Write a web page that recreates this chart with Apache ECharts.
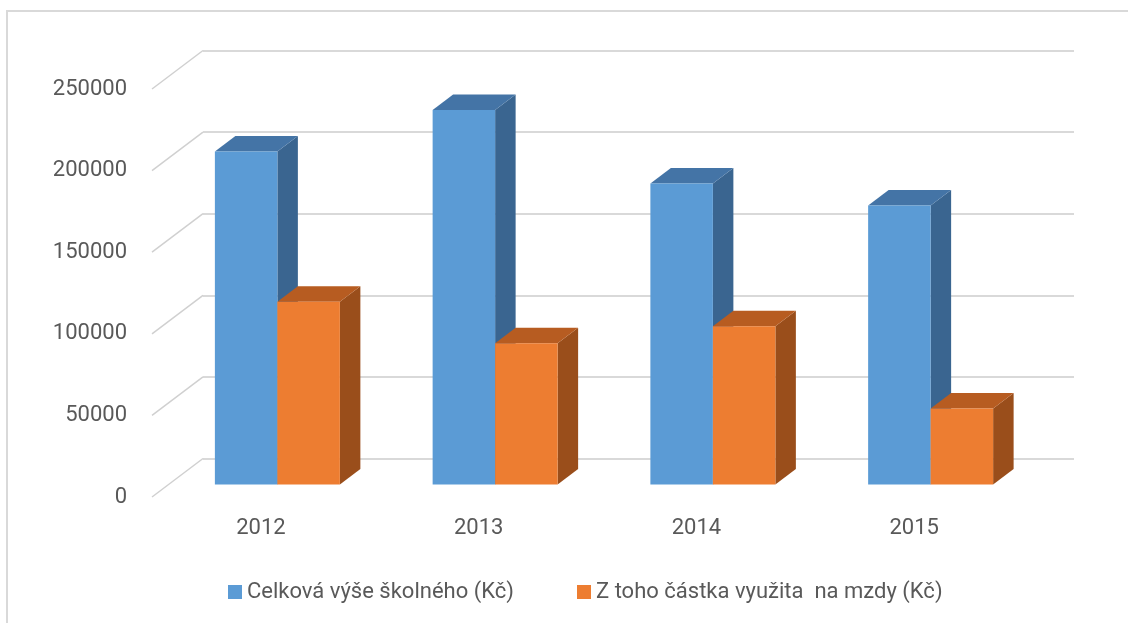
<!DOCTYPE html>
<html lang="cs">
<head>
<meta charset="UTF-8">
<title>Školné</title>
<script src="https://cdn.jsdelivr.net/npm/echarts@6/dist/echarts.min.js"></script>
<style>
  html, body { margin: 0; padding: 0; background: #fff; }
  #chart { width: 1128px; height: 623px; }
</style>
</head>
<body>
<div id="chart"></div>
<script>
// data
var years = ['2012', '2013', '2014', '2015'];
var celkem = [204000, 229500, 184500, 171000];
var mzdy = [112000, 86500, 97000, 46500];
var yTicks = [0, 50000, 100000, 150000, 200000, 250000];
var seriesNames = ['Celková výše školného (Kč)', 'Z toho částka využita  na mzdy (Kč)'];

// 3D look (pixels)
var DX = 51, DY = -38.5;            // floor depth, front wall -> back wall
var BAR_DX = 16.5, BAR_DY = -12.5;  // where the bars stand inside the depth
var BAR_SX = 20.5, BAR_SY = -15.5;  // bar thickness
var BAR_W = 0.287;                  // share of the category width per bar
var faces = [
    { front: '#5b9bd5', top: '#4474a6', side: '#3a6590' },
    { front: '#ed7d31', top: '#b75c21', side: '#9a4e1b' }
];
var txt = '#595959';
var font = 'Roboto, "Noto Sans", sans-serif';

function renderBar(s) {
    return function (params, api) {
        var i = api.value(0);
        var base = api.coord([i, 0]);
        var head = api.coord([i, api.value(1)]);
        var w = api.size([1, 0])[0] * BAR_W;
        var xl = base[0] + BAR_DX - (s === 0 ? w : 0);
        var xr = xl + w;
        var yb = base[1] + BAR_DY;
        var yt = head[1] + BAR_DY;
        var c = faces[s];
        return {
            type: 'group',
            children: [
                { type: 'polygon', shape: { points: [[xr, yt], [xr + BAR_SX, yt + BAR_SY], [xr + BAR_SX, yb + BAR_SY], [xr, yb]] }, style: { fill: c.side } },
                { type: 'polygon', shape: { points: [[xl, yt], [xr, yt], [xr + BAR_SX, yt + BAR_SY], [xl + BAR_SX, yt + BAR_SY]] }, style: { fill: c.top } },
                { type: 'rect', shape: { x: xl, y: yt, width: w, height: yb - yt }, style: { fill: c.front } }
            ]
        };
    };
}

var chart = echarts.init(document.getElementById('chart'));
chart.setOption({
    animation: false,
    textStyle: { fontFamily: font },
    graphic: [{
        type: 'rect', silent: true,
        shape: { x: 7, y: 11, width: 1160, height: 660 },
        style: { fill: 'none', stroke: '#d9d9d9', lineWidth: 2 }
    }],
    grid: [
        // back wall
        { left: 152 + DX, top: 89 + DY, width: 871, height: 408 },
        // front plane
        { left: 152, top: 89, width: 871, height: 408 }
    ],
    xAxis: [
        { gridIndex: 0, type: 'category', data: years, show: false },
        {
            gridIndex: 1, type: 'category', data: years,
            axisLine: { show: false }, axisTick: { show: false },
            axisLabel: { color: txt, fontSize: 22, margin: 20, lineHeight: 22 }
        }
    ],
    yAxis: [
        {
            gridIndex: 0, type: 'value', min: 0, max: 250000, interval: 50000,
            axisLine: { show: false }, axisTick: { show: false }, axisLabel: { show: false },
            splitLine: { lineStyle: { color: '#d9d9d9', width: 2 } }
        },
        {
            gridIndex: 1, type: 'value', min: 0, max: 250000, interval: 50000,
            axisLine: { show: false }, axisTick: { show: false }, splitLine: { show: false },
            axisLabel: { color: txt, fontSize: 22, margin: 25, formatter: function (v) { return String(v); } }
        }
    ],
    legend: [
        {
            left: 223, top: 576, itemWidth: 14, itemHeight: 14,
            data: [{ name: seriesNames[0], icon: 'rect' }],
            textStyle: { color: txt, fontSize: 22 }
        },
        {
            left: 572, top: 576, itemWidth: 14, itemHeight: 14,
            data: [{ name: seriesNames[1], icon: 'rect' }],
            textStyle: { color: txt, fontSize: 22 }
        }
    ],
    series: [
        {
            // side wall lines
            type: 'custom', xAxisIndex: 1, yAxisIndex: 1, silent: true, z: 1,
            data: yTicks.map(function (v) { return [0, v]; }),
            renderItem: function (params, api) {
                var y = api.coord([0, api.value(1)])[1];
                var x = params.coordSys.x;
                return {
                    type: 'line',
                    shape: { x1: x, y1: y, x2: x + DX, y2: y + DY },
                    style: { stroke: '#d0d0d0', lineWidth: 1.5 }
                };
            }
        },
        {
            name: seriesNames[0], type: 'custom', xAxisIndex: 1, yAxisIndex: 1,
            itemStyle: { color: faces[0].front },
            data: celkem.map(function (v, i) { return [i, v]; }),
            renderItem: renderBar(0)
        },
        {
            name: seriesNames[1], type: 'custom', xAxisIndex: 1, yAxisIndex: 1,
            itemStyle: { color: faces[1].front },
            data: mzdy.map(function (v, i) { return [i, v]; }),
            renderItem: renderBar(1)
        }
    ]
});
</script>
</body>
</html>
